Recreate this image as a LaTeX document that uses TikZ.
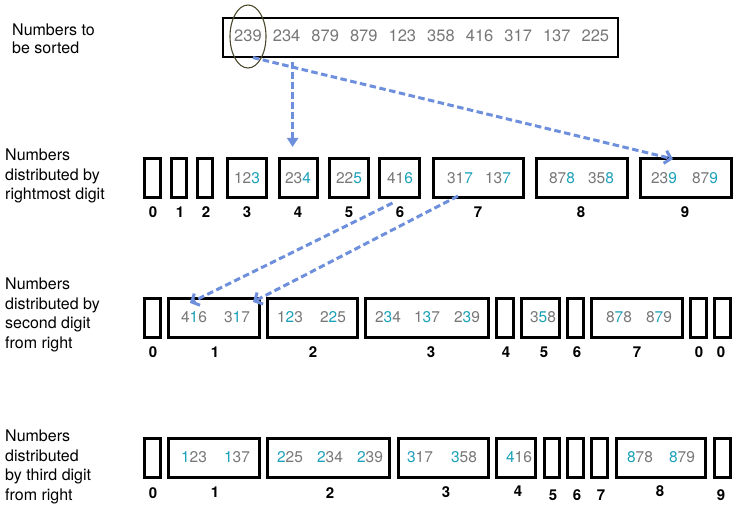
\documentclass[tikz,border=0pt]{standalone}
\usepackage{fontspec}
\setmainfont{TeX Gyre Heros}
\usetikzlibrary{arrows.meta,calc,shapes.geometric}
\definecolor{numgray}{HTML}{777777}
\definecolor{digteal}{HTML}{1BA1B8}
\definecolor{arrblue}{HTML}{6E8FDC}
\definecolor{ellcol}{HTML}{4B4A2C}
\newcommand{\hd}[1]{\textcolor{digteal}{#1}}
\newcommand{\mkbin}[5]{\node[binbox, minimum width={(#3-#2-2.6)*1pt}, minimum height={(#5-#4-2.6)*1pt}] (#1) at ({(#2+#3)/2},{(#4+#5)/2}) {};}
\tikzset{
 binbox/.style={draw=black, line width=2.7pt, inner sep=0pt},
 topbox/.style={draw=black, line width=2.2pt, inner sep=0pt},
 num/.style={text=numgray, font=\fontsize{15.5}{18}\selectfont, inner sep=0pt},
 topnum/.style={text=numgray, font=\fontsize{16.5}{20}\selectfont, inner sep=0pt},
 binlab/.style={font=\bfseries\fontsize{15}{17}\selectfont, inner sep=0pt},
 rowlab/.style={font=\fontsize{16}{19.5}\selectfont, align=left, anchor=west, inner sep=0pt},
 arrline/.style={draw=arrblue, line width=3pt, dash pattern=on 6.5pt off 3.5pt},
 arrv/.style={arrline, -{Triangle[length=9pt,width=11pt]}},
 arrd/.style={arrline, -{Straight Barb[length=6pt,width=13pt]}},
}
\begin{document}
\begin{tikzpicture}[x=1pt,y=-1pt]
\useasboundingbox (0,0) rectangle (746,527);
% ---- row labels
\node[rowlab, font=\fontsize{16}{18}\selectfont] (lab0) at (12,39) {Numbers to\\be sorted};
\node[rowlab] (lab1) at (5,176) {Numbers\\distributed by\\rightmost digit};
\node[rowlab] (lab2) at (5,315) {Numbers\\distributed by\\second digit\\from right};
\node[rowlab] (lab3) at (5,467) {Numbers\\distributed\\by third digit\\from right};
% ---- top box
\node[topbox, minimum width=395pt, minimum height=39pt] (top) at (420.5,37.5) {};
\foreach \v/\x [count=\i] in {239/248,234/286.6,879/325.2,879/363.8,123/402.4,358/441,416/479.6,317/518.2,137/556.8,225/595.4}
  {\node[topnum] (t\i) at (\x,36) {\v};}
\node[draw=ellcol, line width=1.1pt, ellipse, minimum width=36pt, minimum height=63pt, inner sep=0pt] (ell) at (248,36.5) {};
% ---- row 1
\mkbin{r1b0}{143}{162}{157}{199}
\mkbin{r1b1}{170}{188}{157}{199}
\mkbin{r1b2}{196}{214}{157}{199}
\mkbin{r1b3}{226}{268}{157}{199}
\mkbin{r1b4}{278}{319}{157}{199}
\mkbin{r1b5}{328}{370}{157}{199}
\mkbin{r1b6}{378}{421}{157}{199}
\mkbin{r1b7}{432}{525}{157}{199}
\mkbin{r1b8}{535}{629}{157}{199}
\mkbin{r1b9}{639}{733}{157}{199}
\foreach \d/\x in {0/153,1/180,2/206,3/247,4/298,5/349,6/400,7/478,8/581,9/685}
  {\node[binlab] (l1n\d) at (\x,212) {\d};}
\node[num] (r1t3a) at (247,178) {12\hd{3}};
\node[num] (r1t4a) at (298,178) {23\hd{4}};
\node[num] (r1t5a) at (349,178) {22\hd{5}};
\node[num] (r1t6a) at (400,178) {41\hd{6}};
\node[num] (r1t7a) at (460,178) {31\hd{7}};
\node[num] (r1t7b) at (498,178) {13\hd{7}};
\node[num] (r1t8a) at (562,178) {87\hd{8}};
\node[num] (r1t8b) at (601,178) {35\hd{8}};
\node[num] (r1t9a) at (664,178) {23\hd{9}};
\node[num] (r1t9b) at (705,178) {87\hd{9}};
% ---- row 2
\mkbin{r2b0}{143}{162}{297}{339}
\mkbin{r2b1}{167}{261}{297}{339}
\mkbin{r2b2}{266}{359}{297}{339}
\mkbin{r2b3}{364}{490}{297}{339}
\mkbin{r2b4}{495}{515}{297}{339}
\mkbin{r2b5}{520}{561}{297}{339}
\mkbin{r2b6}{566}{585}{297}{339}
\mkbin{r2b7}{590}{684}{297}{339}
\mkbin{r2b8}{689}{708}{297}{339}
\mkbin{r2b9}{713}{732}{297}{339}
\foreach \d/\x [count=\i] in {0/153,1/215,2/313,3/431,4/506,5/544,6/577,7/637,0/699,0/721}
  {\node[binlab] (l2n\i) at (\x,352) {\d};}
\node[num] (r2t1a) at (194,317) {4\hd{1}6};
\node[num] (r2t1b) at (237,317) {3\hd{1}7};
\node[num] (r2t2a) at (290,317) {1\hd{2}3};
\node[num] (r2t2b) at (333,317) {2\hd{2}5};
\node[num] (r2t3a) at (388,317) {2\hd{3}4};
\node[num] (r2t3b) at (427,317) {1\hd{3}7};
\node[num] (r2t3c) at (467,317) {2\hd{3}9};
\node[num] (r2t5a) at (543,317) {3\hd{5}8};
\node[num] (r2t7a) at (619,317) {8\hd{7}8};
\node[num] (r2t7b) at (659,317) {8\hd{7}9};
% ---- row 3
\mkbin{r3b0}{143}{162}{437}{479}
\mkbin{r3b1}{167}{261}{437}{479}
\mkbin{r3b2}{266}{391}{437}{479}
\mkbin{r3b3}{397}{490}{437}{479}
\mkbin{r3b4}{495}{537}{437}{479}
\mkbin{r3b5}{543}{561}{437}{479}
\mkbin{r3b6}{566}{585}{437}{479}
\mkbin{r3b7}{590}{609}{437}{479}
\mkbin{r3b8}{615}{707}{437}{479}
\mkbin{r3b9}{713}{732}{437}{479}
\foreach \d/\x/\y in {0/153/493,1/215/492,2/330/493,3/446/492,4/518/491,5/553/495,6/577/495,7/601/495,8/660/491,9/721/495}
  {\node[binlab] (l3n\d) at (\x,\y) {\d};}
\node[num] (r3t1a) at (194,457) {\hd{1}23};
\node[num] (r3t1b) at (237,457) {\hd{1}37};
\node[num] (r3t2a) at (290,457) {\hd{2}25};
\node[num] (r3t2b) at (330,457) {\hd{2}34};
\node[num] (r3t2c) at (370,457) {\hd{2}39};
\node[num] (r3t3a) at (420,457) {\hd{3}17};
\node[num] (r3t3b) at (464,457) {\hd{3}58};
\node[num] (r3t4a) at (519,457) {\hd{4}16};
\node[num] (r3t8a) at (640,457) {\hd{8}78};
\node[num] (r3t8b) at (682,457) {\hd{8}79};
% ---- arrows
\draw[arrv] ($(top.south -| t2)+(6,4)$) -- ($(r1b4.north -| t2)+(6,-10)$);
\draw[arrd] ($(ell.south)+(5,-11)$) -- ($(r1b9.north west)+(34,2)$);
\draw[arrd] ($(r1b6.south)+(-7,4)$) -- ($(r2b1.north west)+(23,6)$);
\draw[arrd] ($(r1b7.south west)+(26,-3)$) -- ($(r2b1.north west)+(86,5)$);
\end{tikzpicture}
\end{document}
